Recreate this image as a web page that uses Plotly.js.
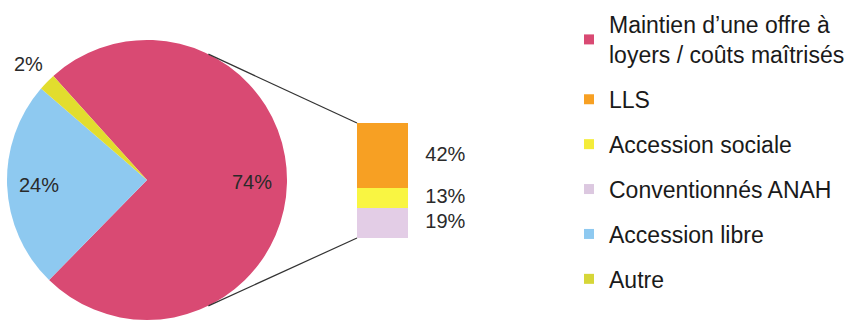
<!DOCTYPE html>
<html>
<head>
<meta charset="utf-8">
<script src="https://cdn.plot.ly/plotly-3.0.1.min.js"></script>
<style>html,body{margin:0;padding:0;background:#fff;}#chart{width:867px;height:322px;}</style>
</head>
<body>
<div id="chart"></div>
<script>
// Pie: main split
var pieLabels = ["Maintien d’une offre à loyers / coûts maîtrisés", "Accession libre", "Autre"];
var pieValues = [74, 24, 2];
var pieColors = ["#d94a73", "#8ec9f0", "#e2dd2e"];

// Bar: breakdown of "Maintien" (bottom to top)
var barLabels = ["Conventionnés ANAH", "Accession sociale", "LLS"];
var barValues = [19, 13, 42];
var barColors = ["#e3cde6", "#f9f542", "#f7a023"];

// Legend entries (order as in reference)
var legendLabels = ["Maintien d’une offre à<br>loyers / coûts maîtrisés", "LLS", "Accession sociale", "Conventionnés ANAH", "Accession libre", "Autre"];
var legendColors = ["#d94a73", "#f7a023", "#f4ec3a", "#dcc8e0", "#8ec9f0", "#d6d638"];

var W = 867, H = 322;
var cx = 147, cy = 180, R = 140;
var rotation = -42;
var font = "Liberation Sans, Arial, sans-serif";
var labelRadius = [0.75, 0.77, 1.18];

function px(x) { return x / W; }
function py(y) { return 1 - y / H; }

var traces = [];
traces.push({
  type: "pie",
  labels: pieLabels,
  values: pieValues,
  sort: false,
  direction: "clockwise",
  rotation: rotation,
  marker: {colors: pieColors, line: {width: 0}},
  textinfo: "none",
  showlegend: false,
  hoverinfo: "label+percent",
  domain: {x: [(cx - R) / W, (cx + R) / W], y: [1 - (cy + R) / H, 1 - (cy - R) / H]}
});

// pie percent labels placed along each slice's mid-angle
var annotations = [];
var pieTotal = pieValues.reduce(function (a, b) { return a + b; }, 0);
var start = rotation;
for (var k = 0; k < pieValues.length; k++) {
  var span = pieValues[k] / pieTotal * 360;
  var mid = (start + span / 2) * Math.PI / 180; // clockwise from 12 o'clock
  var rr = R * labelRadius[k];
  annotations.push({
    xref: "paper", yref: "paper",
    x: px(cx + rr * Math.sin(mid)), y: py(cy - rr * Math.cos(mid)),
    text: Math.round(pieValues[k] / pieTotal * 100) + "%",
    showarrow: false, xanchor: "center", yanchor: "middle",
    font: {family: font, size: 20, color: "#2a2a2a"}
  });
  start += span;
}

// stacked bar
var cum = 0, mids = [], pct = [];
var barTotal = barValues.reduce(function (a, b) { return a + b; }, 0);
for (var i = 0; i < barValues.length; i++) {
  traces.push({
    type: "bar", x: [0], y: [barValues[i]], width: 1,
    marker: {color: barColors[i], line: {width: 0}},
    name: barLabels[i], showlegend: false, hoverinfo: "name+y"
  });
  mids.push(cum + barValues[i] / 2);
  pct.push(barValues[i] + "%");
  cum += barValues[i];
}
traces.push({
  type: "scatter", mode: "text", x: mids.map(function () { return 0.84; }), y: mids,
  text: pct, textposition: "middle right", cliponaxis: false,
  textfont: {family: font, size: 20, color: "#2a2a2a"}, showlegend: false, hoverinfo: "skip"
});

// legend carriers
for (var j = 0; j < legendLabels.length; j++) {
  traces.push({
    type: "scatter", mode: "markers", x: [null], y: [null],
    name: legendLabels[j], legendgroup: "g" + j,
    marker: {symbol: "square", size: 10, color: legendColors[j]},
    hoverinfo: "skip"
  });
}

// bar geometry in pixels
var bx0 = 357, bx1 = 408, by0 = 238, by1 = 123, bxEnd = 475;
var barW = bx1 - bx0;
var xr = [-0.5, -0.5 + (bxEnd - bx0) / barW];

// connector lines pie edge -> bar corners
var a = 64 * Math.PI / 180;
var p1 = [cx + R * Math.cos(a), cy - R * Math.sin(a)];
var p2 = [cx + R * Math.cos(a), cy + R * Math.sin(a)];

var layout = {
  width: W, height: H,
  margin: {l: 0, r: 0, t: 0, b: 0},
  paper_bgcolor: "#ffffff", plot_bgcolor: "rgba(0,0,0,0)",
  barmode: "stack", bargap: 0,
  font: {family: font, color: "#1a1a1a"},
  xaxis: {domain: [bx0 / W, bxEnd / W], range: xr, visible: false, fixedrange: true},
  yaxis: {domain: [1 - by0 / H, 1 - by1 / H], range: [0, barTotal], visible: false, fixedrange: true},
  showlegend: true,
  legend: {
    x: 569 / W, y: 1 - 3 / H, xanchor: "left", yanchor: "top",
    traceorder: "grouped", tracegroupgap: 12,
    font: {family: font, size: 23, color: "#1a1a1a"},
    bgcolor: "rgba(0,0,0,0)", itemclick: false, itemdoubleclick: false
  },
  annotations: annotations,
  shapes: [
    {type: "line", xref: "paper", yref: "paper", x0: px(p1[0]), y0: py(p1[1]), x1: px(bx0), y1: py(by1), line: {color: "#333", width: 1.2}},
    {type: "line", xref: "paper", yref: "paper", x0: px(p2[0]), y0: py(p2[1]), x1: px(bx0), y1: py(by0), line: {color: "#333", width: 1.2}}
  ]
};

Plotly.newPlot("chart", traces, layout, {displayModeBar: false, staticPlot: true});
</script>
</body>
</html>
